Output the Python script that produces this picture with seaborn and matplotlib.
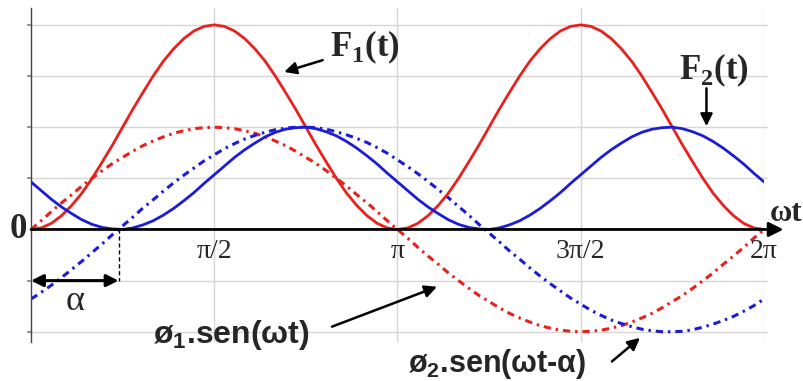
import numpy as np
import pandas as pd
import matplotlib
matplotlib.use("Agg")
import matplotlib.pyplot as plt
import seaborn as sns

# angle wt in degrees, every 5 degrees from 0 to 360
wt_deg = list(range(0, 361, 5))

# F1(t) red solid
f1 = [0, 0.03, 0.12, 0.27, 0.47, 0.71, 1.00, 1.32, 1.65, 2.00, 2.35, 2.68, 3.00, 3.29, 3.53, 3.73, 3.88, 3.97,
      4.00, 3.97, 3.88, 3.73, 3.53, 3.29, 3.00, 2.68, 2.35, 2.00, 1.65, 1.32, 1.00, 0.71, 0.47, 0.27, 0.12, 0.03,
      0, 0.03, 0.12, 0.27, 0.47, 0.71, 1.00, 1.32, 1.65, 2.00, 2.35, 2.68, 3.00, 3.29, 3.53, 3.73, 3.88, 3.97,
      4.00, 3.97, 3.88, 3.73, 3.53, 3.29, 3.00, 2.68, 2.35, 2.00, 1.65, 1.32, 1.00, 0.71, 0.47, 0.27, 0.12, 0.03,
      0]

# phi1.sen(wt) red dash-dot
phi1 = [0, 0.17, 0.35, 0.52, 0.68, 0.85, 1.00, 1.15, 1.29, 1.41, 1.53, 1.64, 1.73, 1.81, 1.88, 1.93, 1.97, 1.99,
        2.00, 1.99, 1.97, 1.93, 1.88, 1.81, 1.73, 1.64, 1.53, 1.41, 1.29, 1.15, 1.00, 0.85, 0.68, 0.52, 0.35, 0.17,
        0, -0.17, -0.35, -0.52, -0.68, -0.85, -1.00, -1.15, -1.29, -1.41, -1.53, -1.64, -1.73, -1.81, -1.88, -1.93,
        -1.97, -1.99, -2.00, -1.99, -1.97, -1.93, -1.88, -1.81, -1.73, -1.64, -1.53, -1.41, -1.29, -1.15, -1.00,
        -0.85, -0.68, -0.52, -0.35, -0.17, 0]

# F2(t) blue solid
f2 = [0.93, 0.76, 0.59, 0.44, 0.31, 0.19, 0.10, 0.04, 0.01,
      0.00, 0.03, 0.09, 0.17, 0.28, 0.41, 0.56, 0.72, 0.90, 1.07, 1.24, 1.41, 1.56, 1.69, 1.81, 1.90, 1.96, 1.99,
      2.00, 1.97, 1.91, 1.83, 1.72, 1.59, 1.44, 1.28, 1.10, 0.93, 0.76, 0.59, 0.44, 0.31, 0.19, 0.10, 0.04, 0.01,
      0.00, 0.03, 0.09, 0.17, 0.28, 0.41, 0.56, 0.72, 0.90, 1.07, 1.24, 1.41, 1.56, 1.69, 1.81, 1.90, 1.96, 1.99,
      2.00, 1.97, 1.91, 1.83, 1.72, 1.59, 1.44, 1.28, 1.10, 0.93]

# phi2.sen(wt-alpha) blue dash-dot
phi2 = [-1.36, -1.23, -1.09, -0.94, -0.78, -0.62, -0.45, -0.28, -0.10,
        0.07, 0.24, 0.42, 0.58, 0.75, 0.91, 1.06, 1.20, 1.34, 1.46, 1.58, 1.68, 1.77, 1.84, 1.90, 1.95, 1.98, 2.00,
        2.00, 1.99, 1.96, 1.91, 1.85, 1.78, 1.70, 1.60, 1.49, 1.36, 1.23, 1.09, 0.94, 0.78, 0.62, 0.45, 0.28, 0.10,
        -0.07, -0.24, -0.42, -0.58, -0.75, -0.91, -1.06, -1.20, -1.34, -1.46, -1.58, -1.68, -1.77, -1.84, -1.90,
        -1.95, -1.98, -2.00, -2.00, -1.99, -1.96, -1.91, -1.85, -1.78, -1.70, -1.60, -1.49, -1.36]

alpha_deg = 43
tick_pos = [np.pi / 2, np.pi, 3 * np.pi / 2, 2 * np.pi]
tick_labels = ["π/2", "π", "3π/2", "2π"]

RED = "#e8211c"
BLUE = "#1c1cd6"

df = pd.DataFrame({
    "wt": np.deg2rad(wt_deg),
    "F1": f1, "phi1": phi1, "F2": f2, "phi2": phi2,
})

sns.set_theme(style="white")
plt.rcParams["font.family"] = ["Liberation Serif", "DejaVu Serif"]
plt.rcParams["mathtext.fontset"] = "custom"
plt.rcParams["mathtext.bf"] = "Liberation Serif:bold"
plt.rcParams["mathtext.sf"] = "Liberation Sans:bold"

fig = plt.figure(figsize=(8.04, 3.81), dpi=100)
ax = fig.add_axes([31 / 804, 39 / 381, 733 / 804, 334 / 381])
ax.set_xlim(0, 2 * np.pi)
ax.set_ylim(-2.2, 4.33)

# grid
for yv in [-2, -1, 1, 2, 3, 4]:
    ax.plot([0, 2 * np.pi + 0.03], [yv, yv], color="#d6d6d6", lw=1, zorder=0, clip_on=False)
for xv in tick_pos:
    ax.axvline(xv, color="#d6d6d6", lw=1, zorder=0)

dashdot = (0, (2.4, 1.6, 0.8, 1.6))
sns.lineplot(data=df, x="wt", y="F1", color=RED, lw=2, ax=ax, zorder=3)
sns.lineplot(data=df, x="wt", y="F2", color=BLUE, lw=2, ax=ax, zorder=3)
sns.lineplot(data=df, x="wt", y="phi1", color=RED, lw=2.2, ax=ax, zorder=2, linestyle=dashdot)
sns.lineplot(data=df, x="wt", y="phi2", color=BLUE, lw=2.2, ax=ax, zorder=2, linestyle=dashdot)

for s in ["top", "right", "bottom"]:
    ax.spines[s].set_visible(False)
ax.spines["left"].set_color("#444444")
ax.spines["left"].set_linewidth(1)
ax.set_xticks([])
ax.set_yticks([-2, -1, 1, 2, 3, 4])
ax.set_yticklabels([])
ax.tick_params(axis="y", direction="out", length=3, color="#888888", left=True)
ax.set_xlabel("")
ax.set_ylabel("")

# horizontal axis with arrow
ax.annotate("", xy=(6.45, 0), xytext=(0, 0), xycoords="data",
            arrowprops=dict(arrowstyle="-|>", color="black", lw=2, mutation_scale=22,
                            shrinkA=0, shrinkB=0), annotation_clip=False, zorder=4)
ax.text(-0.11, 0, "0", fontsize=25, fontweight="bold", ha="center", va="center")
ax.text(6.47, 0.31, "ωt", fontsize=22, fontweight="bold", ha="center", va="center")
for xp, lab in zip(tick_pos, tick_labels):
    ax.text(xp, -0.44, lab, fontsize=20, ha="center", va="center")

# alpha marker
a = np.deg2rad(alpha_deg)
ax.plot([a, a], [0, -1], color="black", lw=1, ls=(0, (3, 2)), zorder=4)
ax.annotate("", xy=(a, -1), xytext=(0, -1),
            arrowprops=dict(arrowstyle="<|-|>", color="black", lw=2.2, mutation_scale=18,
                            shrinkA=0, shrinkB=0), zorder=4)
ax.text(0.38, -1.4, "α", fontsize=26, ha="center", va="center")

# labels with arrows
arrow_kw = dict(arrowstyle="-|>", color="black", lw=1.8, mutation_scale=18, shrinkA=0, shrinkB=0)
ax.text(2.86, 3.57, r"F$_\mathbf{1}$(t)", fontsize=25, fontweight="bold", ha="center", va="center")
ax.annotate("", xy=(2.17, 3.08), xytext=(2.50, 3.31), arrowprops=arrow_kw)
ax.text(5.85, 3.12, r"F$_\mathbf{2}$(t)", fontsize=25, fontweight="bold", ha="center", va="center")
ax.annotate("", xy=(5.79, 2.02), xytext=(5.79, 2.76), arrowprops=arrow_kw)
ax.text(1.72, -2.06, r"ø$_\mathsf{1}$.sen(ωt)", fontsize=23, fontweight="bold",
        family="Liberation Sans", ha="center", va="center", clip_on=False)
ax.annotate("", xy=(3.48, -1.12), xytext=(2.58, -1.90), arrowprops=arrow_kw)
ax.text(4.00, -2.63, r"ø$_\mathsf{2}$.sen(ωt-α)", fontsize=22, fontweight="bold",
        family="Liberation Sans", ha="center", va="center", clip_on=False)
ax.annotate("", xy=(5.22, -2.12), xytext=(4.98, -2.58), arrowprops=arrow_kw,
            annotation_clip=False)

fig.savefig("out.png", dpi=100)
